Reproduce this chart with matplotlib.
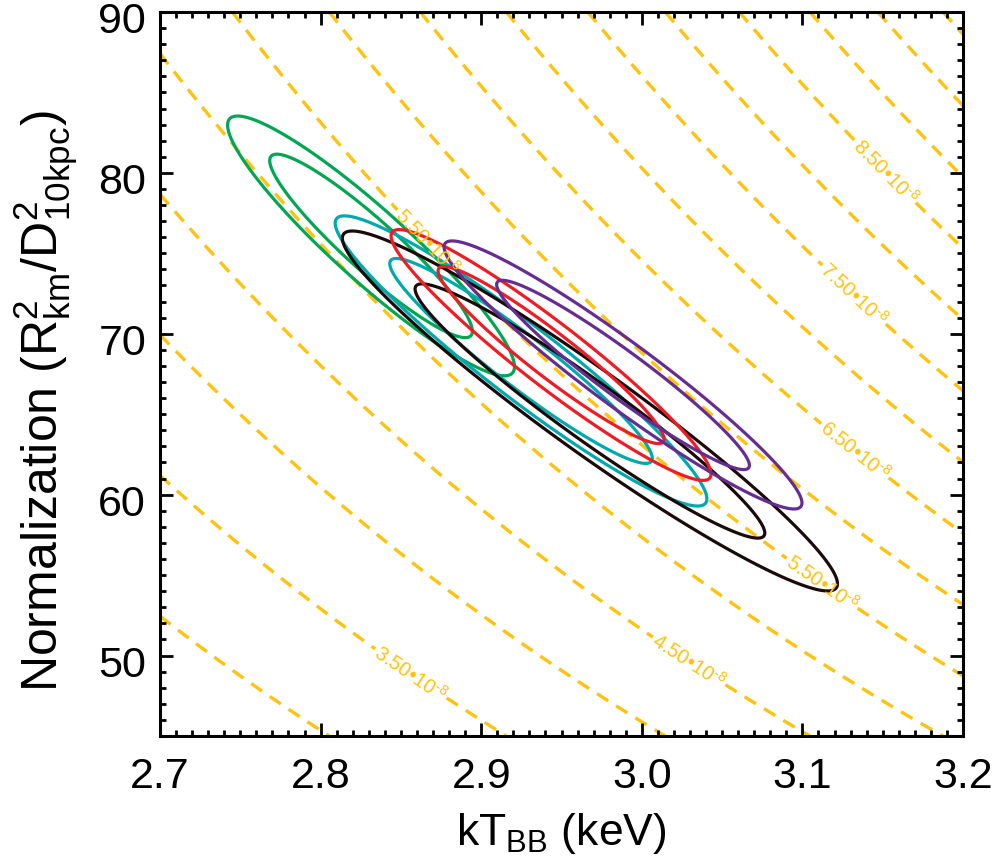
import numpy as np
import matplotlib
matplotlib.use("Agg")
import matplotlib.pyplot as plt
import matplotlib.transforms as mtransforms
from matplotlib.ticker import MultipleLocator, FormatStrFormatter

plt.rcParams['font.family'] = ['Liberation Sans', 'DejaVu Sans']
plt.rcParams['mathtext.fontset'] = 'custom'
plt.rcParams['mathtext.rm'] = 'Liberation Sans'
plt.rcParams['mathtext.it'] = 'Liberation Sans:italic'
plt.rcParams['mathtext.bf'] = 'Liberation Sans:bold'

# confidence contours: centre (kT, norm), 1-sigma widths, correlation
kt_centre = [2.8314, 2.9248, 2.9677, 2.9435, 2.9883]
norm_centre = [75.46, 68.31, 65.20, 68.68, 67.44]
sigma_kt = [0.0416, 0.0539, 0.0718, 0.0464, 0.0519]
sigma_norm = [3.76, 4.20, 5.21, 3.63, 3.88]
rho = [-0.93, -0.95, -0.96, -0.95, -0.955]
colors = ['#00A651', '#00A9AD', '#1C0A0A', '#EE1C25', '#662D91']
dchi2_levels = [2.30, 4.61]

# iso-flux lines (erg/cm^2/s), F = 1.0763e-11 * N * kT^4
flux_plain = [3.0e-8, 4.0e-8, 5.0e-8, 6.0e-8, 7.0e-8, 8.0e-8, 9.0e-8, 9.5e-8, 1.0e-7]
flux_labelled = [3.5e-8, 4.5e-8, 5.5e-8, 6.5e-8, 7.5e-8, 8.5e-8]
label_pos = [(2.857, 49.0), (3.031, 49.9), (2.867, 75.8), (3.113, 54.6),
             (3.134, 62.9), (3.130, 72.2), (3.153, 80.2)]

xlim = (2.7, 3.2)
ylim = (45, 90)

fig = plt.figure(figsize=(10.07, 8.67), dpi=100)
ax = fig.add_axes([0.1589, 0.1511, 0.7974, 0.8351])

kt = np.linspace(xlim[0], xlim[1], 600)
nn = np.linspace(ylim[0], ylim[1], 600)
KT, NN = np.meshgrid(kt, nn)

orange = '#FFC20E'
dash = [(0, (4.0, 2.8))]
flux = 1.0763e-11 * NN * KT**4
ax.contour(KT, NN, flux, levels=flux_plain, colors=orange,
           linewidths=2.4, linestyles=dash, zorder=1)
cs = ax.contour(KT, NN, flux, levels=flux_labelled, colors=orange,
                linewidths=2.4, linestyles=dash, zorder=1)

def fmt(v):
    return '%.2f\u2022' % (v * 1e8) + r'10$^{\mathrm{\text{-}8}}$'

ax.clabel(cs, inline=True, inline_spacing=2, fontsize=14.5,
          fmt=fmt, manual=label_pos, colors=orange)

for i in range(len(kt_centre)):
    dx = (KT - kt_centre[i]) / sigma_kt[i]
    dy = (NN - norm_centre[i]) / sigma_norm[i]
    q = (dx**2 - 2 * rho[i] * dx * dy + dy**2) / (1 - rho[i]**2)
    ax.contour(KT, NN, q, levels=dchi2_levels, colors=colors[i],
               linewidths=2.3, linestyles='solid', zorder=2)

ax.set_xlim(*xlim)
ax.set_ylim(*ylim)
ax.xaxis.set_major_locator(MultipleLocator(0.1))
ax.xaxis.set_minor_locator(MultipleLocator(0.01))
ax.yaxis.set_major_locator(MultipleLocator(10))
ax.yaxis.set_minor_locator(MultipleLocator(1))
ax.xaxis.set_major_formatter(FormatStrFormatter('%.1f'))
ax.tick_params(which='both', direction='in', top=True, right=True, width=2.0,
               labelsize=31, color='black')
ax.tick_params(which='major', length=9.5)
ax.tick_params(axis='x', which='major', pad=15)
ax.tick_params(axis='y', which='major', pad=10)
ax.tick_params(which='minor', length=4.5)
for sp in ax.spines.values():
    sp.set_linewidth(2.2)

# nudge y tick labels down a little, as in the original
shift = mtransforms.ScaledTranslation(0, -6 / 100, fig.dpi_scale_trans)
for lab in ax.get_yticklabels():
    lab.set_transform(lab.get_transform() + shift)

ax.set_xlabel(r'k$\mathrm{T_{BB}}$ (keV)', fontsize=32, labelpad=10)
ax.set_ylabel(r'Normalization ($\mathrm{R^2_{km}/D^2_{10kpc}}$)', fontsize=36)
ax.yaxis.set_label_coords(-0.142, 0.463)
ax.yaxis.label.set_va('center')

fig.savefig('out.png', dpi=100)
